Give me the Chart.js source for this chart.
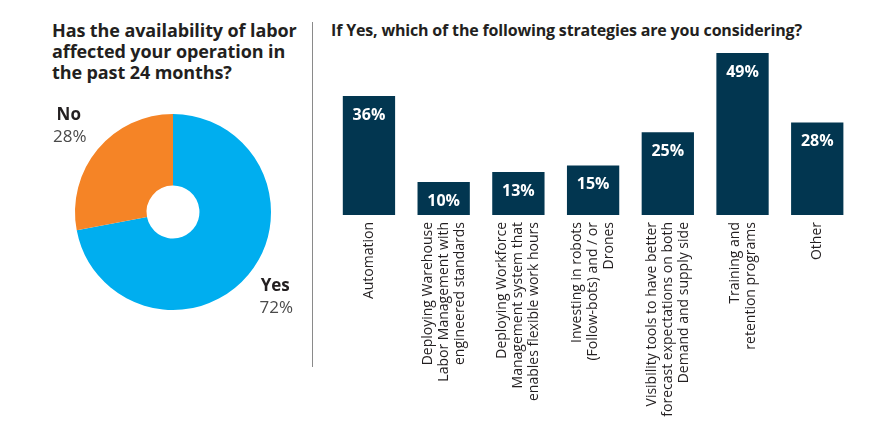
<!DOCTYPE html>
<html>
<head>
<meta charset="utf-8">
<script src="https://cdn.jsdelivr.net/npm/chart.js@4.4.0/dist/chart.umd.min.js"></script>
<style>
body { margin: 0; background: #fff; width: 895px; height: 423px; position: relative; overflow: hidden; font-family: "Open Sans", sans-serif; color: #231f20; }
.title { position: absolute; font-weight: bold; color: #231f20; }
#t1 { left: 52px; top: 20px; font-size: 18px; line-height: 21px; letter-spacing: -0.1px; }
#t2 { left: 331px; top: 20px; font-size: 16px; line-height: 21px; white-space: nowrap; letter-spacing: -0.17px; }
#divider { position: absolute; left: 312px; top: 22px; width: 1px; height: 345px; background: #8a8a8a; }
#pieBox { position: absolute; left: 0; top: 100px; width: 312px; height: 230px; }
#barBox { position: absolute; left: 305px; top: 40px; width: 590px; height: 383px; }
</style>
</head>
<body>
<div class="title" id="t1">Has the availability of labor<br>affected your operation in<br>the past 24 months?</div>
<div class="title" id="t2">If Yes, which of the following strategies are you considering?</div>
<div id="divider"></div>
<div id="pieBox"><canvas id="myChart_pie"></canvas></div>
<div id="barBox"><canvas id="myChart_bar"></canvas></div>
<script>
/* Data */
var pieLabels = ['Yes', 'No'];
var pieValues = [72, 28];
var pieColors = ['#00aeef', '#f58426'];

var barLabels = [
    ['Automation'],
    ['Deploying Warehouse', 'Labor Management with', 'engineered standards'],
    ['Deploying Workforce', 'Management system that', 'enables flexible work hours'],
    ['Investing in robots', '(Follow-bots) and / or', 'Drones'],
    ['Visibility tools to have better', 'forecast expectations on both', 'Demand and supply side'],
    ['Training and', 'retention programs'],
    ['Other']
];
var barValues = [36, 10, 13, 15, 25, 49, 28];
/* End Data */

/* Labels outside the doughnut */
const pieLabelPlugin = {
    id: 'pieLabels',
    afterDraw(chart) {
        const ctx = chart.ctx;
        const meta = chart.getDatasetMeta(0);
        meta.data.forEach(function(arc, i) {
            const mid = (arc.startAngle + arc.endAngle) / 2;
            const dist = arc.outerRadius + 36;
            const x = arc.x + Math.cos(mid) * dist;
            const y = arc.y + Math.sin(mid) * dist;
            ctx.save();
            ctx.textAlign = 'center';
            ctx.textBaseline = 'middle';
            ctx.fillStyle = '#231f20';
            ctx.font = 'bold 17px "Open Sans"';
            ctx.fillText(pieLabels[i], x - 1, y - 11);
            ctx.fillStyle = '#4a4a4a';
            ctx.font = '17px "Open Sans"';
            ctx.fillText(pieValues[i] + '%', x, y + 11);
            ctx.restore();
        });
    }
};

new Chart(document.getElementById('myChart_pie'), {
    type: 'doughnut',
    data: {
        labels: pieLabels,
        datasets: [{
            data: pieValues,
            backgroundColor: pieColors,
            borderWidth: 0
        }]
    },
    options: {
        responsive: true,
        maintainAspectRatio: false,
        animation: false,
        cutout: '27%',
        layout: { padding: { left: 75, right: 41, top: 14, bottom: 20 } },
        plugins: { legend: { display: false }, tooltip: { enabled: false } }
    },
    plugins: [pieLabelPlugin]
});

/* Values inside bar tops + centred category labels */
const barTextPlugin = {
    id: 'barText',
    afterDatasetsDraw(chart) {
        const ctx = chart.ctx;
        const meta = chart.getDatasetMeta(0);
        meta.data.forEach(function(bar, i) {
            ctx.save();
            ctx.textAlign = 'center';
            ctx.textBaseline = 'middle';
            ctx.fillStyle = '#ffffff';
            ctx.font = 'bold 16px "Open Sans"';
            ctx.fillText(barValues[i] + '%', bar.x, bar.y + 19);
            ctx.restore();
        });
        const xScale = chart.scales.x;
        const top = chart.chartArea.bottom + 7;
        const lh = 16;
        barLabels.forEach(function(lines, i) {
            const x = xScale.getPixelForTick(i);
            lines.forEach(function(line, j) {
                const off = (j - (lines.length - 1) / 2) * lh;
                ctx.save();
                ctx.translate(x + off, top);
                ctx.rotate(-Math.PI / 2);
                ctx.textAlign = 'right';
                ctx.textBaseline = 'middle';
                ctx.fillStyle = '#231f20';
                ctx.font = '14px "Open Sans"';
                ctx.fillText(line, 0, 0);
                ctx.restore();
            });
        });
    }
};

new Chart(document.getElementById('myChart_bar'), {
    type: 'bar',
    data: {
        labels: barLabels,
        datasets: [{
            data: barValues,
            backgroundColor: '#023650',
            barPercentage: 0.7,
            categoryPercentage: 1.0
        }]
    },
    options: {
        responsive: true,
        maintainAspectRatio: false,
        animation: false,
        layout: { padding: { left: 26.6, right: 40.4, top: 9.7, bottom: 0 } },
        scales: {
            x: {
                grid: { display: false, drawTicks: false },
                border: { display: false },
                afterFit: function(axis) { axis.height = 208; },
                ticks: { display: false }
            },
            y: { display: false, min: 0, max: 50 }
        },
        plugins: { legend: { display: false }, tooltip: { enabled: false } }
    },
    plugins: [barTextPlugin]
});
</script>
</body>
</html>
